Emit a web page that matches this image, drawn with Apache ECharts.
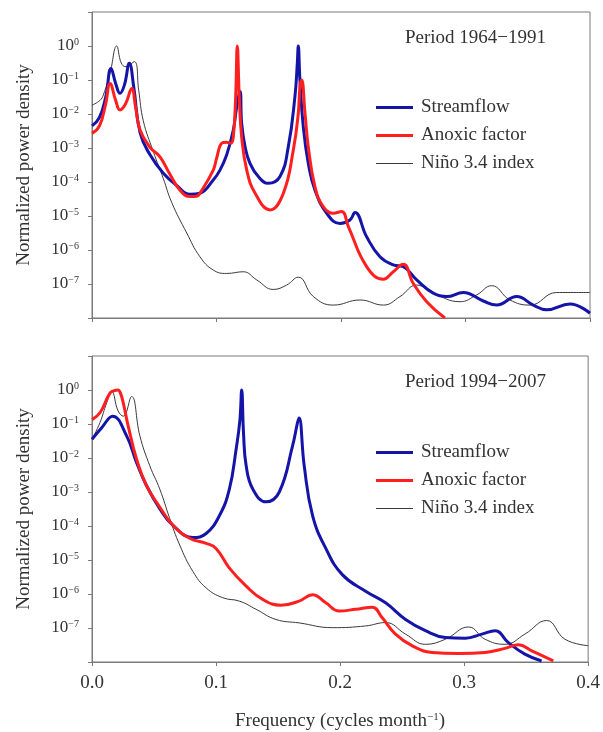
<!DOCTYPE html>
<html>
<head>
<meta charset="utf-8">
<script src="https://cdn.jsdelivr.net/npm/echarts@6/dist/echarts.min.js"></script>
<style>html,body{margin:0;padding:0;background:#fff}#c{width:603px;height:732px}</style>
</head>
<body>
<div id="c"></div>
<script>
// ---- data (frequency in cycles/month, log10 of normalized power density) ----
const xTicks = [0.0, 0.1, 0.2, 0.3, 0.4];
const yDecades = [0, -1, -2, -3, -4, -5, -6, -7];
const seriesNames = ['Streamflow', 'Anoxic factor', 'Niño 3.4 index'];
const panelTitles = ['Period 1964\u22121991', 'Period 1994\u22122007'];

// Panel 1 (1964-1991)
const topStreamFreq = [0, 0.006, 0.011, 0.0153, 0.019, 0.0225, 0.026, 0.030, 0.0335, 0.0386, 0.0466, 0.0573, 0.068, 0.0787, 0.0867, 0.0974, 0.1028, 0.1082, 0.1135, 0.1162, 0.1189, 0.1202, 0.1229, 0.1269, 0.1336, 0.1416, 0.151, 0.1577, 0.163, 0.1649, 0.1657, 0.167, 0.1697, 0.1737, 0.1791, 0.1885, 0.1992, 0.2072, 0.2112, 0.2206, 0.2313, 0.242, 0.25, 0.2608, 0.2741, 0.2849, 0.2982, 0.3143, 0.325, 0.3411, 0.3545, 0.3652, 0.3839, 0.4];
const topStreamLog  = [-2.35, -2.1, -1.5, -0.66, -1.1, -1.39, -1.15, -0.51, -1.2, -2.55, -3.2, -3.74, -4.1, -4.36, -4.33, -3.94, -3.65, -3.2, -2.47, -1.8, -1.34, -2.27, -2.96, -3.45, -3.84, -4.04, -3.84, -2.96, -1.49, -0.51, 0, -1.0, -2.37, -3.45, -4.24, -4.92, -5.22, -5.12, -4.9, -5.61, -6.2, -6.44, -6.49, -6.88, -7.27, -7.37, -7.25, -7.5, -7.62, -7.37, -7.62, -7.76, -7.59, -7.86];

const topAnoxFreq = [0, 0.006, 0.011, 0.0145, 0.019, 0.0225, 0.027, 0.0319, 0.035, 0.0386, 0.0466, 0.0546, 0.0627, 0.0707, 0.0787, 0.084, 0.0867, 0.0974, 0.1001, 0.1042, 0.108, 0.1115, 0.1135, 0.1154, 0.1167, 0.1183, 0.1202, 0.1243, 0.131, 0.143, 0.1537, 0.1617, 0.1657, 0.167, 0.1684, 0.1711, 0.1737, 0.1791, 0.1858, 0.1938, 0.2005, 0.2059, 0.2206, 0.234, 0.242, 0.25, 0.258, 0.2688, 0.2835];
const topAnoxLog  = [-2.57, -2.35, -1.7, -1.1, -1.6, -1.88, -1.7, -1.25, -1.8, -2.47, -2.98, -3.26, -3.78, -4.24, -4.43, -4.42, -4.33, -3.65, -3.3, -2.86, -2.83, -2.86, -2.67, -1.49, 0, -1.49, -2.67, -3.65, -4.33, -4.82, -4.33, -3.06, -1.98, -1.2, -1.0, -1.98, -2.96, -4.14, -4.73, -4.92, -4.87, -5.31, -6.49, -6.86, -6.64, -6.42, -6.98, -7.52, -8.0];

const topNinoFreq = [0, 0.0064, 0.0091, 0.0145, 0.0198, 0.0235, 0.0273, 0.034, 0.0375, 0.0412, 0.0492, 0.0573, 0.064, 0.0761, 0.0867, 0.0974, 0.1082, 0.1215, 0.1323, 0.1456, 0.1564, 0.1657, 0.1778, 0.1938, 0.2153, 0.234, 0.2474, 0.2608, 0.2741, 0.2956, 0.309, 0.321, 0.3357, 0.3518, 0.3733, 0.4];
const topNinoLog  = [-1.74, -1.6, -1.44, -0.8, 0, -0.5, -0.61, -0.46, -1.3, -2.2, -3.1, -3.9, -4.6, -5.5, -6.2, -6.59, -6.69, -6.64, -6.88, -7.16, -7.03, -6.8, -7.37, -7.62, -7.47, -7.62, -7.37, -7.03, -7.27, -7.52, -7.32, -7.05, -7.47, -7.62, -7.25, -7.25];

// Panel 2 (1994-2007)
const botStreamFreq = [0, 0.008, 0.0166, 0.0279, 0.0359, 0.0439, 0.0546, 0.0653, 0.0814, 0.092, 0.1028, 0.1108, 0.1162, 0.1192, 0.1207, 0.1222, 0.1243, 0.1296, 0.1403, 0.151, 0.1617, 0.1657, 0.167, 0.1711, 0.1778, 0.1885, 0.2018, 0.2206, 0.2367, 0.2528, 0.2688, 0.2849, 0.301, 0.3143, 0.325, 0.3357, 0.349, 0.3625];
const botStreamLog  = [-1.45, -1.1, -0.77, -1.35, -2.13, -2.81, -3.49, -3.98, -4.34, -4.22, -3.69, -2.91, -1.74, -0.9, 0, -1.3, -2.23, -2.91, -3.29, -3.0, -1.64, -0.96, -0.82, -2.23, -3.69, -4.66, -5.43, -5.92, -6.26, -6.75, -7.08, -7.28, -7.3, -7.18, -7.08, -7.43, -7.77, -7.97];

const botAnoxFreq = [0, 0.0064, 0.0145, 0.018, 0.021, 0.023, 0.0252, 0.0292, 0.0359, 0.0439, 0.0546, 0.0653, 0.0787, 0.092, 0.1, 0.1108, 0.1243, 0.1376, 0.1523, 0.167, 0.1778, 0.1885, 0.1992, 0.2126, 0.2259, 0.234, 0.2447, 0.258, 0.2741, 0.2956, 0.3169, 0.3329, 0.3438, 0.3545, 0.3719];
const botAnoxLog  = [-0.87, -0.67, -0.09, -0.02, 0, -0.1, -0.38, -1.06, -2.03, -2.81, -3.44, -3.98, -4.36, -4.51, -4.66, -5.24, -5.77, -6.16, -6.33, -6.21, -6.02, -6.26, -6.5, -6.45, -6.39, -6.7, -7.18, -7.52, -7.72, -7.75, -7.72, -7.6, -7.49, -7.67, -7.97];

const botNinoFreq = [0, 0.0064, 0.0118, 0.0158, 0.0211, 0.0252, 0.0319, 0.0386, 0.0466, 0.0546, 0.0627, 0.0707, 0.0814, 0.092, 0.1055, 0.1189, 0.1323, 0.1483, 0.167, 0.1938, 0.2206, 0.2367, 0.2528, 0.2688, 0.2849, 0.3036, 0.3169, 0.3329, 0.349, 0.3665, 0.3813, 0.4];
const botNinoLog  = [-1.45, -0.96, -0.38, -0.04, -0.62, -0.77, -0.19, -1.35, -2.23, -2.91, -3.78, -4.56, -5.34, -5.82, -6.11, -6.21, -6.45, -6.75, -6.85, -6.99, -6.94, -6.84, -7.18, -7.48, -7.33, -6.97, -7.33, -7.48, -7.18, -6.78, -7.33, -7.52];

// ---- chart ----
const FONT = '"Liberation Serif", "Times New Roman", serif';
const TXT = '#333';
const AX = '#7a7a7a';
const COLORS = { 'Streamflow': '#1414a8', 'Anoxic factor': '#ff1f1f', 'Niño 3.4 index': '#3a3a3a' };
const WIDTHS = { 'Streamflow': 3, 'Anoxic factor': 3, 'Niño 3.4 index': 1 };

function pairs(freq, logs) { return freq.map((f, i) => [f, Math.pow(10, logs[i])]); }

function yLabel(v) {
  const e = Math.round(Math.log10(v));
  if (yDecades.indexOf(e) < 0) return '';
  return '10{s|' + (e === 0 ? '0' : '\u2212' + (-e)) + '}';
}

const grids = [
  { left: 92, top: 12, width: 498, height: 306 },
  { left: 92, top: 356, width: 498, height: 306 }
];

function makeX(gi, showLabels) {
  return {
    type: 'value', gridIndex: gi, min: xTicks[0], max: xTicks[xTicks.length - 1], interval: 0.1,
    axisLine: { show: true, lineStyle: { color: AX, width: 1 } },
    axisTick: { show: true, inside: false, length: 4, lineStyle: { color: AX } },
    axisLabel: { show: showLabels, margin: 12, color: TXT, fontFamily: FONT, fontSize: 19,
      formatter: v => v.toFixed(1) },
    splitLine: { show: false },
    name: showLabels ? 'Frequency (cycles month{s|\u22121})' : '',
    nameLocation: 'middle', nameGap: 50,
    nameTextStyle: { color: TXT, fontFamily: FONT, fontSize: 19,
      rich: { s: { fontFamily: FONT, fontSize: 11, color: TXT, verticalAlign: 'top', lineHeight: 11 } } }
  };
}
function makeY(gi) {
  return {
    type: 'log', logBase: 10, gridIndex: gi, min: 1e-8, max: 10,
    axisLine: { show: true, lineStyle: { color: AX, width: 1 } },
    axisTick: { show: true, inside: false, length: 4, lineStyle: { color: AX } },
    minorTick: { show: false },
    splitLine: { show: false },
    axisLabel: { show: true, margin: 13, color: TXT, fontFamily: FONT, fontSize: 17, formatter: yLabel,
      rich: { s: { fontFamily: FONT, fontSize: 10, color: TXT, verticalAlign: 'top', lineHeight: 10 } } },
    name: 'Normalized power density', nameLocation: 'middle', nameGap: 58,
    nameTextStyle: { color: TXT, fontFamily: FONT, fontSize: 19 }
  };
}

function makeSeries(name, gi, freq, logs) {
  return {
    type: 'line', name: name, xAxisIndex: gi, yAxisIndex: gi,
    data: pairs(freq, logs), symbol: 'none', showSymbol: false, smooth: 0.45,
    lineStyle: { color: COLORS[name], width: WIDTHS[name] },
    itemStyle: { color: COLORS[name] }, z: name === 'Niño 3.4 index' ? 1 : (name === 'Streamflow' ? 2 : 3)
  };
}

function makeLegend(top) {
  return {
    data: seriesNames.map(n => ({
      name: n,
      icon: 'path://M0,0L37,0L37,' + WIDTHS[n] + 'L0,' + WIDTHS[n] + 'Z',
      itemStyle: { color: COLORS[n] }
    })),
    orient: 'vertical', left: 376, top: top, padding: 0,
    itemWidth: 37, itemHeight: 14, itemGap: 9, symbolKeepAspect: true,
    textStyle: { color: TXT, fontFamily: FONT, fontSize: 19, padding: [0, 0, 0, 3] }
  };
}

const chart = echarts.init(document.getElementById('c'), null, { renderer: 'canvas' });
chart.setOption({
  backgroundColor: '#fff',
  animation: false,
  grid: grids.map(g => Object.assign({ show: true, borderColor: AX, borderWidth: 1, backgroundColor: 'transparent' }, g)),
  xAxis: [makeX(0, false), makeX(1, true)],
  yAxis: [makeY(0), makeY(1)],
  title: [
    { text: panelTitles[0], left: 405, top: 29, padding: 0, textStyle: { color: TXT, fontFamily: FONT, fontSize: 19, fontWeight: 'normal' } },
    { text: panelTitles[1], left: 405, top: 373, padding: 0, textStyle: { color: TXT, fontFamily: FONT, fontSize: 19, fontWeight: 'normal' } }
  ],
  legend: [makeLegend(98), makeLegend(443)],
  series: [
    makeSeries('Niño 3.4 index', 0, topNinoFreq, topNinoLog),
    makeSeries('Streamflow', 0, topStreamFreq, topStreamLog),
    makeSeries('Anoxic factor', 0, topAnoxFreq, topAnoxLog),
    makeSeries('Niño 3.4 index', 1, botNinoFreq, botNinoLog),
    makeSeries('Streamflow', 1, botStreamFreq, botStreamLog),
    makeSeries('Anoxic factor', 1, botAnoxFreq, botAnoxLog)
  ]
});
</script>
</body>
</html>
